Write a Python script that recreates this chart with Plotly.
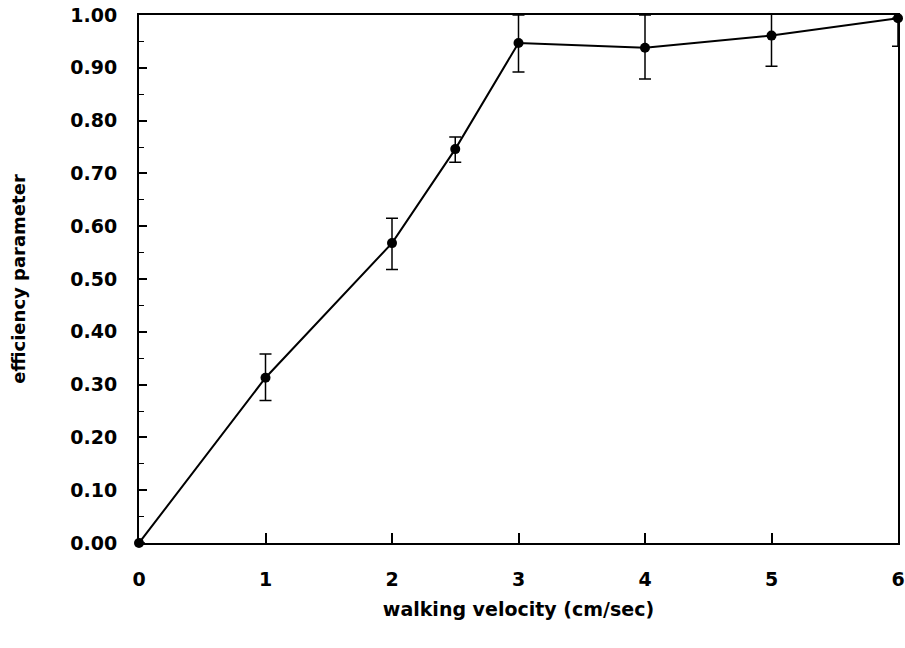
import plotly.graph_objects as go

velocity = [0, 1, 2, 2.5, 3, 4, 5, 6]
efficiency = [0.00, 0.313, 0.568, 0.746, 0.947, 0.938, 0.961, 0.994]
err_plus = [0, 0.045, 0.047, 0.023, 0.053, 0.062, 0.05, 0.0]
err_minus = [0, 0.043, 0.050, 0.025, 0.055, 0.059, 0.058, 0.053]

y_ticks = [i / 10 for i in range(11)]
x_ticks = [0, 1, 2, 3, 4, 5, 6]

fig = go.Figure()
fig.add_trace(go.Scatter(
    x=velocity, y=efficiency,
    mode="lines+markers",
    line=dict(color="black", width=2),
    marker=dict(color="black", size=10),
    error_y=dict(type="data", symmetric=False, array=err_plus, arrayminus=err_minus,
                 color="black", thickness=1.5, width=6),
    cliponaxis=False,
    showlegend=False,
))

font_family = "DejaVu Sans, sans-serif"
fig.update_layout(
    width=905, height=648,
    margin=dict(l=139, r=7, t=15, b=105),
    paper_bgcolor="white", plot_bgcolor="white",
    font=dict(family=font_family, color="black"),
    xaxis=dict(
        range=[0, 6], tickvals=x_ticks, ticktext=[f"<b>{v}</b>" for v in x_ticks],
        ticks="inside", ticklen=10, tickwidth=1.5, tickcolor="black",
        showline=True, linecolor="black", linewidth=2, mirror=True,
        showgrid=False, zeroline=False, automargin=False,
        ticklabelstandoff=18,
        tickfont=dict(size=19, family=font_family),
        title=dict(text="<b>walking velocity (cm/sec)</b>", font=dict(size=19), standoff=14),
    ),
    yaxis=dict(
        range=[0, 1.0], tickvals=y_ticks, ticktext=[f"<b>{v:.2f}</b>" for v in y_ticks],
        ticks="inside", ticklen=8, tickwidth=1.5, tickcolor="black",
        minor=dict(dtick=0.05, ticks="inside", ticklen=5, tickwidth=1, tickcolor="black", showgrid=False),
        showline=True, linecolor="black", linewidth=2, mirror=True,
        showgrid=False, zeroline=False, automargin=False,
        ticklabelstandoff=16,
        tickfont=dict(size=19, family=font_family),
        title=dict(text="<b>efficiency parameter</b>", font=dict(size=18), standoff=40),
    ),
)

fig.write_html(
    "out.html",
    config={"displayModeBar": False},
    post_script="document.body.style.margin='0';document.body.style.overflow='hidden';",
)
